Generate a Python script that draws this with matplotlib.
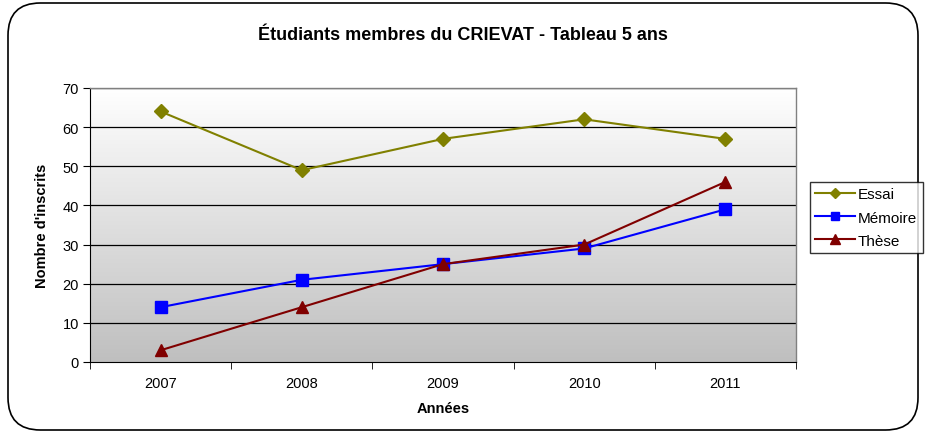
import matplotlib
matplotlib.use("Agg")
import matplotlib.pyplot as plt
import numpy as np
from matplotlib.patches import FancyBboxPatch
from matplotlib.colors import LinearSegmentedColormap

plt.rcParams['font.family'] = ['Liberation Sans', 'DejaVu Sans']

years = ["2007", "2008", "2009", "2010", "2011"]
essai = [64, 49, 57, 62, 57]
memoire = [14, 21, 25, 29, 39]
these = [3, 14, 25, 30, 46]

fig = plt.figure(figsize=(9.25, 4.39), dpi=100)
W, H = 925, 439

# rounded outer border
border = FancyBboxPatch((8 / W, 8 / H), (918 - 8) / W, (435 - 8) / H,
                        boxstyle="round,pad=0,rounding_size=0.035",
                        transform=fig.transFigure, fill=False,
                        edgecolor="black", linewidth=1.2, mutation_aspect=W / H)
fig.patches.append(border)

ax = fig.add_axes([90 / W, 1 - 363 / H, (796 - 90) / W, (363 - 89) / H])
x = np.arange(len(years))

# gradient background (white at top, grey at bottom)
grad = np.linspace(0, 1, 256).reshape(-1, 1)
cmap = LinearSegmentedColormap.from_list("g", ["#ffffff", "#bfbfbf"])
ax.imshow(grad, aspect="auto", cmap=cmap, extent=[-0.5, len(years) - 0.5, 0, 70],
          zorder=0, origin="upper")
ax.set_xlim(-0.5, len(years) - 0.5)
ax.set_ylim(0, 70)

ax.set_yticks(range(0, 71, 10))
for yv in range(10, 71, 10):
    ax.axhline(yv, color="black", linewidth=0.9, zorder=1)

ax.plot(x, essai, color="#808000", marker="D", markersize=7, linewidth=1.5,
        label="Essai", zorder=3)
ax.plot(x, memoire, color="#0000ff", marker="s", markersize=8, linewidth=1.5,
        label="Mémoire", zorder=3)
ax.plot(x, these, color="#800000", marker="^", markersize=9, linewidth=1.5,
        label="Thèse", zorder=3)

ax.set_xticks(x)
ax.set_xticklabels(years, fontsize=10.5)
ax.set_xticks(np.arange(-0.5, len(years), 1), minor=True)
ax.tick_params(axis="x", which="major", length=0, pad=10)
ax.tick_params(axis="x", which="minor", length=5, direction="out", color="black")
ax.tick_params(axis="y", length=5, direction="out", labelsize=10.5, pad=3)

for s in ["top", "right"]:
    ax.spines[s].set_color("#808080")
    ax.spines[s].set_linewidth(1.0)
ax.spines["left"].set_color("black")
ax.spines["bottom"].set_color("black")

ax.set_xlabel("Années", fontsize=10.5, fontweight="bold", labelpad=8)
ax.set_ylabel("Nombre d'inscrits", fontsize=10.5, fontweight="bold", labelpad=10)

fig.text(463 / W, 1 - 36 / H, "Étudiants membres du CRIEVAT - Tableau 5 ans",
         ha="center", va="center", fontsize=13, fontweight="bold")

leg = fig.legend(loc="upper left", bbox_to_anchor=(810 / W, 1 - 183 / H),
                 fontsize=11, frameon=True, fancybox=False, edgecolor="black",
                 borderpad=0.35, labelspacing=0.6, handlelength=2.6,
                 handletextpad=0.2, borderaxespad=0, markerscale=0.75)
leg.get_frame().set_linewidth(1.0)

fig.savefig("out.png", dpi=100)
